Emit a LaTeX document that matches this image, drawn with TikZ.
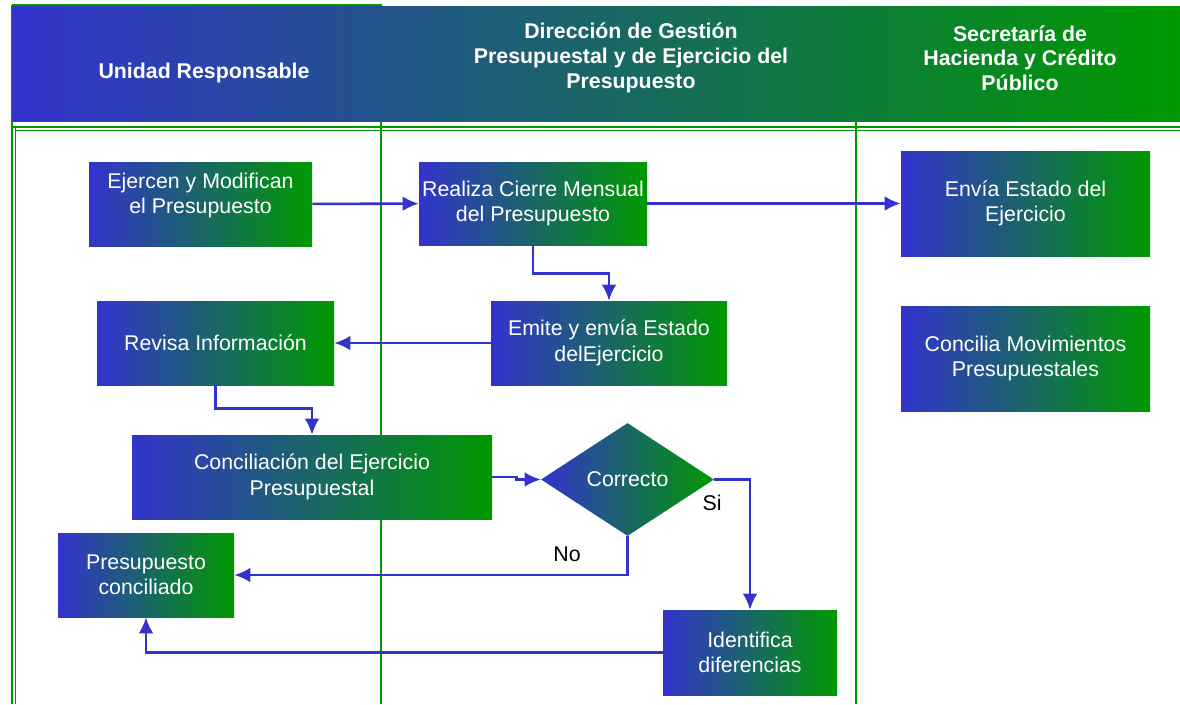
\documentclass[tikz,border=0pt]{standalone}
\usepackage{fontspec}
\setmainfont{Liberation Sans}
\usetikzlibrary{shapes.geometric,arrows.meta}
\definecolor{azul}{HTML}{3333CC}
\definecolor{verde}{HTML}{009900}
\begin{document}
\begin{tikzpicture}[x=0.75pt,y=-0.75pt,
    paso/.style={rectangle,left color=azul,right color=verde,text=white,align=center,inner sep=0pt,font=\fontsize{16}{19}\selectfont},
    decision/.style={diamond,left color=azul,right color=verde,text=white,inner sep=0pt,minimum width=129.75pt,minimum height=84.75pt,font=\fontsize{16}{19}\selectfont},
    titulo/.style={text=white,align=center,font=\bfseries\fontsize{16}{18.5}\selectfont},
    etiqueta/.style={font=\fontsize{16}{19}\selectfont},
    flujo/.style={->,draw=azul,line width=1.9pt},
    carril/.style={draw=verde,line width=1.3pt}]
    \tikzset{>={Latex[length=12pt,width=11pt]}}
    \useasboundingbox (0,0) rectangle (1180,704);
    % carriles
    \draw[carril] (12,5) -- (382,5);
    \draw[carril] (12,5) -- (12,704);
    \draw[carril] (15.5,128) -- (15.5,704);
    \draw[carril] (381,5) -- (381,704);
    \draw[carril] (856,121) -- (856,704);
    \draw[carril] (12,127) -- (1180,127);
    \draw[carril] (15.5,130.5) -- (1180,130.5);
    % encabezado
    \shade[left color=azul,right color=verde] (12.5,6) rectangle (1180,121);
    \node[titulo] (unidad) at (204,73) {Unidad Responsable};
    \node[titulo] (direccion) at (631,58) {Dirección de Gestión\\Presupuestal y de Ejercicio del\\Presupuesto};
    \node[titulo] (secretaria) at (1020,58) {Secretaría de\\Hacienda y Crédito\\Público};
    % pasos
    \node[paso,minimum width=167.25pt,minimum height=63pt,text depth=16pt] (ejercen) at (200.5,204) {Ejercen y Modifican\\el Presupuesto};
    \node[paso,minimum width=171pt,minimum height=62.25pt] (cierre) at (533,203.5) {Realiza Cierre Mensual\\del Presupuesto};
    \node[paso,minimum width=186.75pt,minimum height=78.75pt] (envia) at (1025.5,203.5) {Envía Estado del\\Ejercicio};
    \node[paso,minimum width=177.75pt,minimum height=63pt] (revisa) at (215.5,343) {Revisa Información};
    \node[paso,minimum width=177pt,minimum height=63pt] (emite) at (609,343) {Emite y envía Estado\\delEjercicio};
    \node[paso,minimum width=186.75pt,minimum height=78.75pt] (concilia) at (1025.5,358.5) {Concilia Movimientos\\Presupuestales};
    \node[paso,minimum width=270pt,minimum height=63pt] (conciliacion) at (312,477) {Conciliación del Ejercicio\\Presupuestal};
    \node[decision] (correcto) at (627.5,479.5) {Correcto};
    \node[paso,minimum width=132pt,minimum height=63pt] (conciliado) at (146,575) {Presupuesto\\conciliado};
    \node[paso,minimum width=130.5pt,minimum height=63.75pt] (identifica) at (750,652.5) {Identifica\\diferencias};
    % flujo
    \draw[flujo] (ejercen) -- (cierre);
    \draw[flujo] (cierre) -- (envia);
    \draw[flujo] (cierre.south) -- ++(0,28) -| (emite.north);
    \draw[flujo] (emite) -- (revisa);
    \draw[flujo] (revisa.south) -- ++(0,23) -| (conciliacion.north);
    \draw[flujo] (conciliacion.east) -- ++(24,0) |- (correcto.west);
    \draw[flujo] (correcto.east) -| (identifica.north);
    \draw[flujo] (correcto.south) |- (conciliado.east);
    \draw[flujo] (identifica.west) -| (conciliado.south);
    \node[etiqueta] (si) at (712,503) {Si};
    \node[etiqueta] (no) at (567,554) {No};
\end{tikzpicture}
\end{document}
